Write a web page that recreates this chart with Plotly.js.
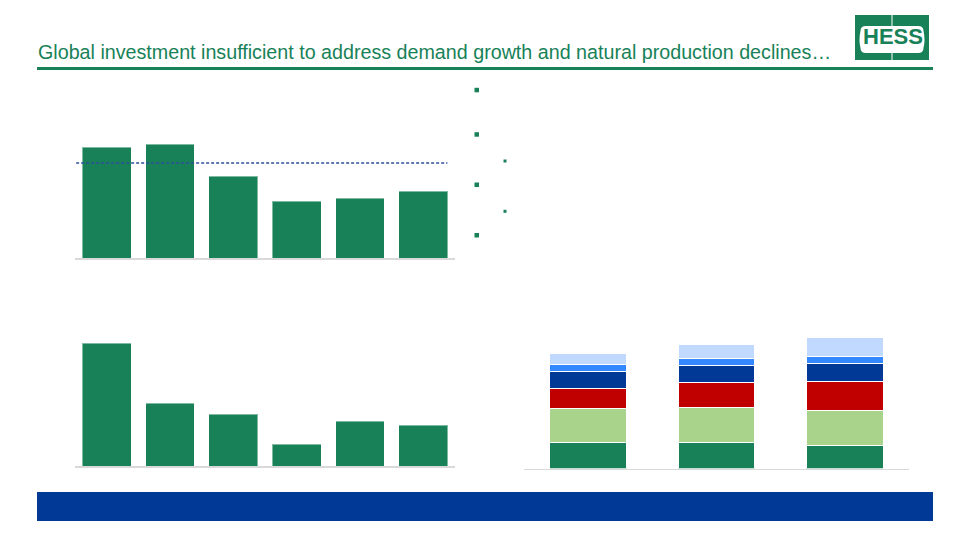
<!DOCTYPE html>
<html>
<head>
<meta charset="utf-8">
<script src="https://cdn.plot.ly/plotly-3.0.1.min.js"></script>
<style>
  html, body { margin: 0; padding: 0; background: #fff; }
  #slide { width: 960px; height: 540px; }
</style>
</head>
<body>
<div id="slide"></div>
<script>
// ---- data (no axis labels shown so units are relative) ----
const periods = ['P1', 'P2', 'P3', 'P4', 'P5', 'P6'];
const investment = [111, 114, 82, 57, 60, 67];      // top-left bars
const investmentRef = 95;                             // dashed reference level
const discoveries = [123, 63, 52, 22, 45, 41];       // bottom-left bars

const stackCats = ['A', 'B', 'C'];
const seg1 = [26, 26, 23];     // dark green
const seg2 = [34, 35, 35];     // light green
const seg3 = [20, 25, 29];     // red
const seg4 = [17, 17, 18];     // dark blue
const seg5 = [7, 7, 7];        // blue
const seg6 = [11, 14, 19];     // light blue
const segColors = ['#188158', '#a9d38b', '#c00000', '#003a96', '#3388ff', '#c1d9ff'];

const W = 960, H = 540;
const fx = x => x / W;
const fy = y => 1 - y / H;

const GREEN = '#188158';
const AXIS_GREY = '#d9d9d9';

// ---- traces ----
const traces = [
  {
    type: 'bar', x: periods, y: investment, xaxis: 'x', yaxis: 'y', width: 0.77,
    marker: { color: GREEN, line: { color: 'rgba(255,255,255,0.45)', width: 1 } },
    hoverinfo: 'skip'
  },
  {
    type: 'bar', x: periods, y: discoveries, xaxis: 'x2', yaxis: 'y2', width: 0.77,
    marker: { color: GREEN, line: { color: 'rgba(255,255,255,0.45)', width: 1 } },
    hoverinfo: 'skip'
  }
];
[seg1, seg2, seg3, seg4, seg5, seg6].forEach((vals, i) => {
  traces.push({
    type: 'bar', x: stackCats, y: vals, xaxis: 'x3', yaxis: 'y3', width: 0.6,
    marker: { color: segColors[i], line: { color: '#ffffff', width: 1.5 } },
    hoverinfo: 'skip'
  });
});

const hiddenY = { showgrid: false, zeroline: false, showticklabels: false, showline: false, ticks: '' };
const baseX = { showgrid: false, zeroline: false, showticklabels: false, ticks: '',
                showline: true, linecolor: AXIS_GREY, linewidth: 1.5, fixedrange: true };

// ---- slide decoration ----
function pxPath(pts) {
  // pts: list of [cmd, x, y, ...] in pixels -> paper path
  return pts.map(p => {
    const c = p[0];
    const nums = [];
    for (let i = 1; i < p.length; i += 2) nums.push(fx(p[i]).toFixed(5) + ',' + fy(p[i + 1]).toFixed(5));
    return c + ' ' + nums.join(' ');
  }).join(' ') + ' Z';
}

const rect = (x0, y0, x1, y1, color) => ({
  type: 'rect', xref: 'paper', yref: 'paper',
  x0: fx(x0), x1: fx(x1), y0: fy(y1), y1: fy(y0),
  fillcolor: color, line: { width: 0 }, layer: 'above'
});

const shapes = [
  // title rule
  rect(37, 67, 933, 70, GREEN),
  // bottom banner
  rect(37, 492, 933, 521, '#003a96'),
  // bullets
  rect(474.5, 87.8, 479, 92.3, GREEN),
  rect(474.5, 132.2, 479, 136.7, GREEN),
  rect(474.5, 182.5, 479, 187, GREEN),
  rect(474.5, 233, 479, 237.5, GREEN),
  rect(503.5, 159.5, 506.5, 162.5, GREEN),
  rect(503.5, 209.8, 506.5, 212.8, GREEN),
  // logo frame
  rect(855, 15, 929, 60, GREEN),
  {
    type: 'path', xref: 'paper', yref: 'paper', layer: 'above',
    path: pxPath([
      ['M', 866, 26], ['L', 918, 26], ['Q', 923.5, 26, 923.5, 31],
      ['Q', 925.5, 39.5, 923.5, 48], ['Q', 923.5, 53, 918, 53],
      ['L', 866, 53], ['Q', 860.5, 53, 860.5, 48],
      ['Q', 858.5, 39.5, 860.5, 31], ['Q', 860.5, 26, 866, 26]
    ]),
    fillcolor: '#ffffff', line: { width: 0 }
  },
  { type: 'line', xref: 'paper', yref: 'paper', layer: 'above',
    x0: fx(892), x1: fx(892), y0: fy(15), y1: fy(26), line: { color: '#ffffff', width: 1 } },
  { type: 'line', xref: 'paper', yref: 'paper', layer: 'above',
    x0: fx(892), x1: fx(892), y0: fy(53), y1: fy(60), line: { color: '#ffffff', width: 1 } },
  // dashed reference line on the top chart
  { type: 'line', xref: 'x domain', yref: 'y', x0: 0.003, x1: 0.98,
    y0: investmentRef, y1: investmentRef, layer: 'above',
    line: { color: '#2e4f9a', width: 1.3, dash: '3px,2px' } }
];

const annotations = [
  {
    xref: 'paper', yref: 'paper', x: fx(36), y: fy(52.5), xanchor: 'left', yanchor: 'middle',
    text: 'Global investment insufficient to address demand growth and natural production declines…',
    showarrow: false, font: { family: 'Liberation Sans, Arial, sans-serif', size: 19.7, color: GREEN }
  },
  {
    xref: 'paper', yref: 'paper', x: fx(892.5), y: fy(36.5), xanchor: 'center', yanchor: 'middle',
    text: '<b>HESS</b>', showarrow: false,
    font: { family: 'Liberation Sans, Arial, sans-serif', size: 22, color: GREEN }
  }
];

const layout = {
  width: W, height: H,
  margin: { l: 0, r: 0, t: 0, b: 0, pad: 0 },
  paper_bgcolor: '#ffffff', plot_bgcolor: 'rgba(0,0,0,0)',
  showlegend: false, barmode: 'stack',
  font: { family: 'Liberation Sans, Arial, sans-serif' },
  xaxis:  { ...baseX, domain: [fx(75), fx(455)], anchor: 'y' },
  yaxis:  { ...hiddenY, domain: [fy(258), fy(100)], range: [0, 158], anchor: 'x' },
  xaxis2: { ...baseX, domain: [fx(75), fx(455)], anchor: 'y2' },
  yaxis2: { ...hiddenY, domain: [fy(466), fy(330)], range: [0, 136], anchor: 'x2' },
  xaxis3: { ...baseX, domain: [fx(524), fx(909)], anchor: 'y3' },
  yaxis3: { ...hiddenY, domain: [fy(468.5), fy(330)], range: [0, 138.5], anchor: 'x3' },
  shapes, annotations
};

Plotly.newPlot('slide', traces, layout, { staticPlot: true, displayModeBar: false });
</script>
</body>
</html>
